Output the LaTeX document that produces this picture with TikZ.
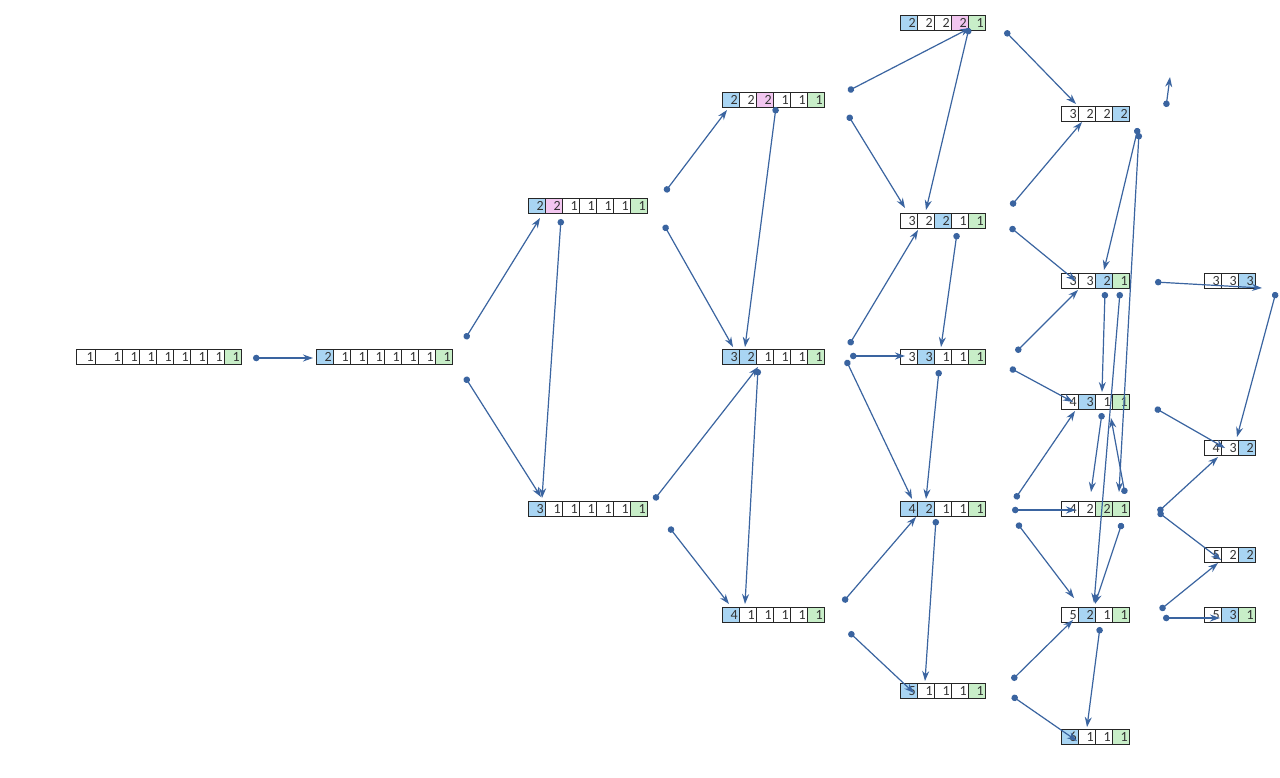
\documentclass[tikz,border=0pt]{standalone}
\usepackage{fontspec}
\setmainfont{Carlito}
\usetikzlibrary{arrows.meta}
\definecolor{cb}{HTML}{A9D5F3}
\definecolor{cp}{HTML}{F2C6F0}
\definecolor{cg}{HTML}{C8EEC8}
\definecolor{cw}{HTML}{FFFFFF}
\definecolor{edgec}{HTML}{3A64A0}
\tikzset{
 cellbox/.style={draw=black!85, line width=0.7pt, minimum height=15pt, text width=13.5pt, inner xsep=1.75pt, inner ysep=0pt, align=right, font=\fontsize{14}{14}\selectfont, text height=9.5pt, text depth=0pt, anchor=west, text=black!80},
 conn/.style={draw=edgec, line width=1.2pt, {Circle[length=6.5pt,width=6.5pt]}-{Stealth[length=10pt,width=7pt]}},
}
\newcommand{\cellrow}[4]{\foreach \v/\c [count=\i] in {#4}{\node[cellbox,fill=\c] (#1\i) at ({#2+(\i-1)*17},#3) {\v};}}
\newcommand{\edge}[3]{\coordinate (s#1) at (#2); \coordinate (t#1) at (#3); \draw[conn] (s#1) -- (t#1);}
\begin{document}
\begin{tikzpicture}[x=1pt,y=-1pt]
\fill[white] (0,0) rectangle (1280,777);
\useasboundingbox (0,0) rectangle (1280,777);
% row A (irregular widths)
\node[cellbox,fill=cw,text width=15.5pt] (A1) at (76,357) {1};
\node[cellbox,fill=cw,text width=23.5pt] (A2) at (95,357) {1};
\cellrow{A}{122}{357}{1/cw,1/cw,1/cw,1/cw,1/cw,1/cw,1/cg}
\cellrow{B}{316}{357}{2/cb,1/cw,1/cw,1/cw,1/cw,1/cw,1/cw,1/cg}
\cellrow{C}{528}{205.5}{2/cb,2/cp,1/cw,1/cw,1/cw,1/cw,1/cg}
\cellrow{D}{528}{508.5}{3/cb,1/cw,1/cw,1/cw,1/cw,1/cw,1/cg}
\cellrow{E}{722}{99.5}{2/cb,2/cw,2/cp,1/cw,1/cw,1/cg}
\cellrow{F}{722}{357}{3/cb,2/cb,1/cw,1/cw,1/cw,1/cg}
\cellrow{G}{722}{615}{4/cb,1/cw,1/cw,1/cw,1/cw,1/cg}
\cellrow{H}{900}{23}{2/cb,2/cw,2/cw,2/cp,1/cg}
\cellrow{I}{900}{220.5}{3/cw,2/cw,2/cb,1/cw,1/cg}
\cellrow{J}{900}{357}{3/cw,3/cb,1/cw,1/cw,1/cg}
\cellrow{K}{900}{508.5}{4/cb,2/cb,1/cw,1/cw,1/cg}
\cellrow{L}{900}{690.5}{5/cb,1/cw,1/cw,1/cw,1/cg}
\cellrow{M}{1061}{113.5}{3/cw,2/cw,2/cw,2/cb}
\cellrow{N}{1061}{281}{3/cw,3/cw,2/cb,1/cg}
\cellrow{O}{1061}{402}{4/cw,3/cb,1/cw,1/cg}
\cellrow{P}{1061}{508.5}{4/cw,2/cw,2/cg,1/cg}
\cellrow{Q}{1061}{615}{5/cw,2/cb,1/cw,1/cg}
\cellrow{R}{1061}{736.5}{6/cb,1/cw,1/cw,1/cg}
\cellrow{S}{1204}{281}{3/cw,3/cw,3/cb}
\cellrow{T}{1204}{448}{4/cw,3/cw,2/cb}
\cellrow{U}{1204}{554.5}{5/cw,2/cw,2/cb}
\cellrow{V}{1204}{615}{5/cw,3/cb,1/cg}
% connectors
\edge{1}{253,358}{313,358}
\edge{2}{465,339}{540,218}
\edge{3}{465,377}{541,497}
\edge{4}{561,219}{542,498}
\edge{5}{665,192}{727,110}
\edge{6}{664,225}{733,347}
\edge{7}{654,500}{758,367}
\edge{8}{669,527}{729,604}
\edge{9}{776,107}{745,347}
\edge{10}{758,369}{745,604}
\edge{11}{848,91}{970,28}
\edge{12}{848,115}{905,208}
\edge{13}{1005,31}{1076,104}
\edge{14}{969,28}{926,210}
\edge{15}{849,345}{918,230}
\edge{16}{850,356}{905,356}
\edge{17}{846,360}{912,499}
\edge{18}{957,233}{941,347}
\edge{19}{1011,206}{1082,122}
\edge{20}{1010,227}{1076,281}
\edge{21}{939,370}{926,499}
\edge{22}{1016,352}{1078,290}
\edge{23}{1010,368}{1073,402}
\edge{24}{843,602}{916,517}
\edge{25}{849,632}{914,693}
\edge{26}{936,519}{925,681}
\edge{27}{1015,499}{1075,411}
\edge{28}{1012,510}{1076,510}
\edge{29}{1017,523}{1074,598}
\edge{30}{1012,680}{1073,620}
\edge{31}{1012,696}{1077,741}
\edge{32}{1138,128}{1104,270}
\edge{33}{1139,133}{1119,492}
\edge{34}{1105,292}{1102,392}
\edge{35}{1120,292}{1094,603}
\edge{36}{1102,413}{1091,492}
\edge{37}{1125,494}{1111,418}
\edge{38}{1122,523}{1095,604}
\edge{39}{1100,627}{1087,727}
\edge{40}{1155,282}{1262,288}
\edge{41}{1276,292}{1237,437}
\edge{42}{1155,408}{1225,448}
\edge{43}{1158,512}{1218,457}
\edge{44}{1158,512}{1221,560}
\edge{45}{1160,610}{1218,563}
\edge{46}{1163,618}{1220,618}
\edge{47}{1166,107}{1170,77}
\end{tikzpicture}
\end{document}
